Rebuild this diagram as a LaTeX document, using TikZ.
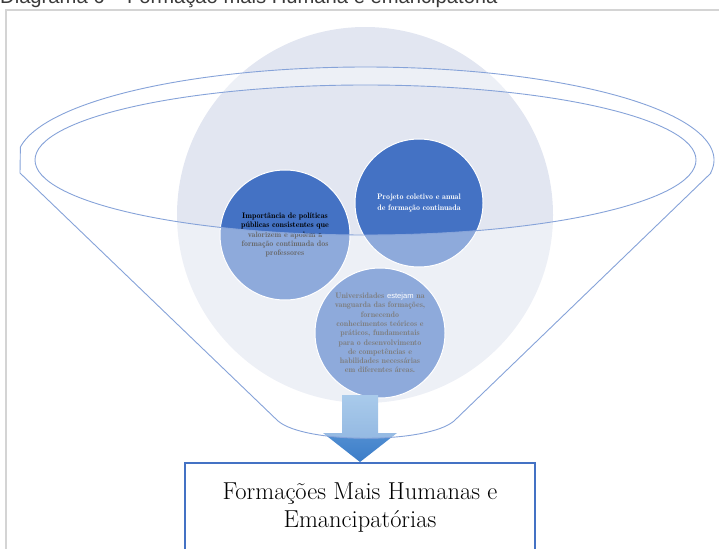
\documentclass[tikz,border=0pt]{standalone}
\usepackage{fontspec}
\newfontfamily\titlefont{Liberation Sans}
\newfontfamily\demifont{lmromandemi10-regular.otf}
\usetikzlibrary{calc}
\definecolor{circdark}{HTML}{4472C4}
\definecolor{bigcirc}{HTML}{E2E6F1}
\definecolor{funnelline}{HTML}{86A3D9}
\definecolor{framegray}{HTML}{D4D4D4}
\definecolor{titlegray}{HTML}{3A3A3A}
\definecolor{arrowtop}{HTML}{70A8DE}
\definecolor{arrowbot}{HTML}{3B7CC8}
\tikzset{
  bubble/.style={circle, fill=circdark, draw=white, line width=1pt, inner sep=0pt,
    align=center, font=\demifont\fontsize{8}{9.3}\selectfont},
  outline/.style={draw=funnelline, line width=0.9pt},
}
\begin{document}
\begin{tikzpicture}[x=1pt,y=-1pt]
\useasboundingbox (0,0) rectangle (719,548);
\begin{scope}
\clip (0,0) rectangle (719,548);
% caption, cut by the top edge
\node[anchor=base west, inner sep=0pt, text=titlegray,
      font=\titlefont\fontsize{20.2}{22}\selectfont] (title) at (0,4)
  {Diagrama 6 – Formação mais Humana e emancipatória};
% figure frame
\draw[framegray, line width=1.5pt] (6,560) -- (6,10) -- (730,10);

% large background circle
\node[circle, fill=bigcirc, minimum size=376pt, inner sep=0pt] (back) at (365,215) {};

% three idea circles
\node[bubble, minimum size=130pt, text=black] (c1) at (285,235)
  {Importância de políticas\\públicas consistentes que\\valorizem e apoiem a\\formação continuada dos\\professores};
\node[bubble, minimum size=128pt, text=white, font=\demifont\fontsize{8}{10.5}\selectfont] (c2) at (419,203)
  {Projeto coletivo e anual\\de formação continuada};
\node[bubble, minimum size=130pt, text=black!85] (c3) at (380,333)
  {Universidades {\color{white}\titlefont\fontsize{7.6}{9}\selectfont estejam} na\\vanguarda das formações,\\fornecendo\\conhecimentos teóricos e\\práticos, fundamentais\\para o desenvolvimento\\de competências e\\habilidades necessárias\\em diferentes áreas.};

% block arrow leaving the funnel
\shade[top color=arrowtop, bottom color=arrowbot]
  (342,395) -- (378,395) -- (378,433) -- (397,433) -- (360,462)
  -- (323,433) -- (342,433) -- cycle;

% translucent funnel body (outside the inner rim)
\fill[white, fill opacity=0.4, even odd rule]
  (20,173) -- (278,421) .. controls (305,444) and (427,444) .. (454,421) -- (711,173)
  -- plot[domain=8:-172, samples=160] ({365.5+348.5*cos(\x)}, {160+93*sin(\x)})
  -- cycle
  (365.5,160) ellipse [x radius=330.5pt, y radius=75pt];

% funnel outlines
\draw[outline, line join=round]
  (20,173) -- (278,421) .. controls (305,444) and (427,444) .. (454,421) -- (711,173)
  -- plot[domain=8:-172, samples=160] ({365.5+348.5*cos(\x)}, {160+93*sin(\x)})
  -- cycle;
\draw[outline] (365.5,160) ellipse [x radius=330.5pt, y radius=75pt];

% result box
\node[draw=circdark, line width=1.5pt, fill=white, minimum width=350pt, minimum height=90pt,
      inner sep=0pt, anchor=north, align=center,
      font=\fontsize{24.5}{27.5}\selectfont] (result) at (360,462)
  {Formações Mais Humanas e\\Emancipatórias};
\end{scope}
\end{tikzpicture}
\end{document}
